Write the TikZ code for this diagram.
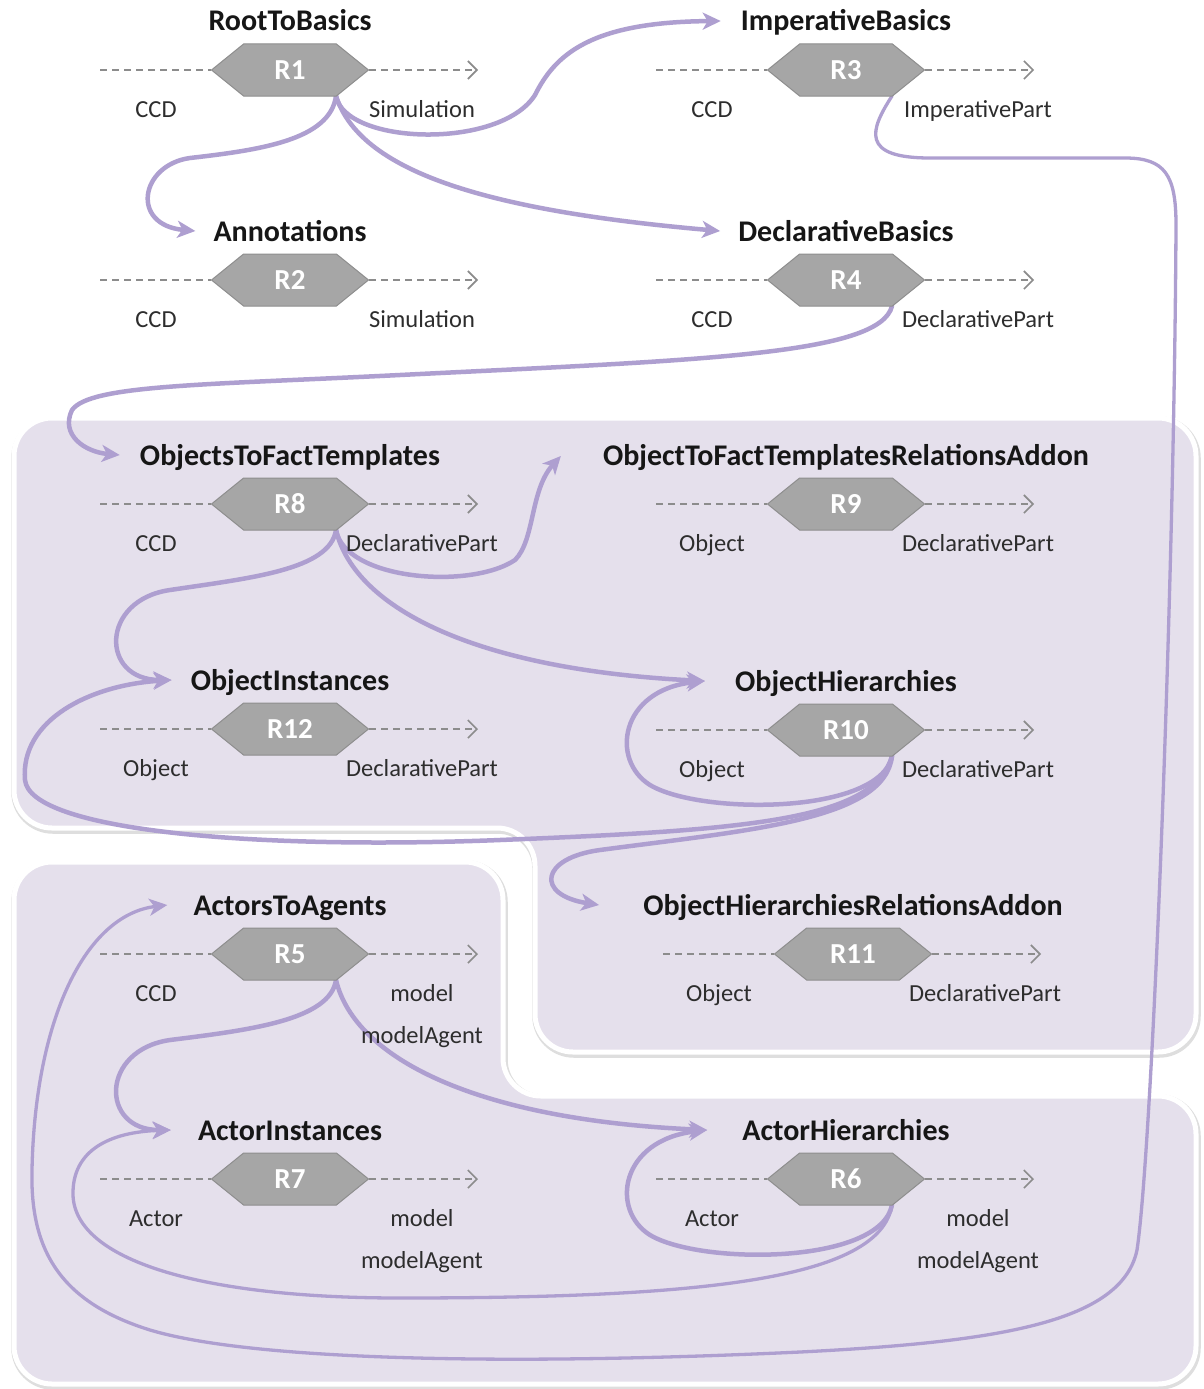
\documentclass[tikz,border=0pt]{standalone}
\usepackage{fontspec}
\setmainfont{Carlito}
\usetikzlibrary{arrows.meta,calc,shapes.symbols}

\definecolor{lav}{RGB}{229,224,236}
\definecolor{lilac}{RGB}{174,159,208}
\definecolor{hexgray}{RGB}{166,166,166}
\definecolor{hexedge}{RGB}{142,142,142}
\definecolor{dashgray}{RGB}{140,140,140}
\definecolor{titlec}{RGB}{22,22,22}
\definecolor{lblc}{RGB}{45,45,45}

\pgfdeclarelayer{bg}
\pgfdeclarelayer{wires}
\pgfsetlayers{bg,wires,main}

\tikzset{
  region/.style={fill=lav, draw=white, line width=5pt, rounded corners=38pt},
  regshadow/.style={draw=black!13, line width=7.5pt, rounded corners=38pt},
  hexa/.style={signal, signal to=west and east, signal pointer angle=78,
    minimum width=157pt, minimum height=52pt, inner sep=0pt,
    fill=hexgray, draw=hexedge, line width=1pt, text=white,
    font=\fontsize{29}{30}\selectfont\bfseries},
  ttl/.style={font=\fontsize{30}{32}\selectfont\bfseries, text=titlec, inner sep=0pt, anchor=base},
  lbl/.style={font=\fontsize{24.5}{27}\selectfont, text=lblc, inner sep=0pt, anchor=base},
  dashln/.style={draw=dashgray, line width=1.6pt, dash pattern=on 7pt off 5pt},
  conn/.style={draw=lilac, line width=4.5pt, line cap=round,
    -{Stealth[length=18pt,width=17pt,inset=5pt]}},
  connthin/.style={conn, line width=3.3pt},
}

% one transformation rule: hexagon, title, input and output labels
\newcommand{\ruleblock}[6]{%
  \node[hexa] (h#1) at (#2,#3) {R#1};
  \node[ttl] (t#1) at (#2,#3-39) {#4};
  \node[lbl] (l#1) at (#2-134,#3+47) {#5};
  \node[lbl] (r#1) at (#2+132,#3+47) {#6};
  \coordinate (in#1) at (#2-190,#3);
  \coordinate (out#1) at (#2+188,#3);
  \draw[dashln] (in#1) -- (h#1.west);
  \draw[dashln,-{Straight Barb[length=9pt,width=18pt]}] (h#1.east) -- (out#1);
}

\begin{document}
\begin{tikzpicture}[x=1pt,y=-1pt]
\useasboundingbox (0,0) rectangle (1203,1389);

\begin{pgfonlayer}{bg}
  \fill[white] (0,0) rectangle (1203,1389);
  % object group
  \draw[regshadow] (15,420) -- (1197,420) -- (1197,1054) -- (536,1054) -- (536,830) -- (15,830) -- cycle;
  \path[region] (14,418) -- (1196,418) -- (1196,1052) -- (535,1052) -- (535,828) -- (14,828) -- cycle;
  % actor group
  \draw[regshadow] (15,864) -- (504,864) -- (504,1098) -- (1197,1098) -- (1197,1386) -- (15,1386) -- cycle;
  \path[region] (14,862) -- (503,862) -- (503,1096) -- (1196,1096) -- (1196,1384) -- (14,1384) -- cycle;
\end{pgfonlayer}

\ruleblock{1}{290}{70}{RootToBasics}{CCD}{Simulation}
\ruleblock{2}{290}{280}{Annotations}{CCD}{Simulation}
\ruleblock{3}{846}{70}{ImperativeBasics}{CCD}{ImperativePart}
\ruleblock{4}{846}{280}{DeclarativeBasics}{CCD}{DeclarativePart}
\ruleblock{8}{290}{504}{ObjectsToFactTemplates}{CCD}{DeclarativePart}
\ruleblock{9}{846}{504}{ObjectToFactTemplatesRelationsAddon}{Object}{DeclarativePart}
\ruleblock{12}{290}{729}{ObjectInstances}{Object}{DeclarativePart}
\ruleblock{10}{846}{730}{ObjectHierarchies}{Object}{DeclarativePart}
\ruleblock{11}{853}{954}{ObjectHierarchiesRelationsAddon}{Object}{DeclarativePart}
\ruleblock{5}{290}{954}{ActorsToAgents}{CCD}{model}
\ruleblock{7}{290}{1179}{ActorInstances}{Actor}{model}
\ruleblock{6}{846}{1179}{ActorHierarchies}{Actor}{model}
\node[lbl] (m5) at (422,1043) {modelAgent};
\node[lbl] (m7) at (422,1268) {modelAgent};
\node[lbl] (m6) at (978,1268) {modelAgent};

\begin{pgfonlayer}{wires}
  % RootToBasics
  \draw[conn] ($(h1)+(46,26)$) .. controls (345,145) and (500,150) .. (535,95)
     .. controls (555,55) and (590,22) .. ($(t3.base west)+(-20,-10)$);
  \draw[conn] ($(h1)+(46,26)$) .. controls (330,140) and (260,150) .. (190,158)
     .. controls (140,165) and (130,225) .. ($(t2.base west)+(-18,-10)$);
  \draw[conn] ($(h1)+(46,26)$) .. controls (360,170) and (480,210) .. ($(t4.base west)+(-18,-10)$);
  % DeclarativeBasics
  \draw[conn] ($(h4)+(46,26)$) .. controls (880,355) and (700,360) .. (400,375)
     .. controls (200,385) and (90,385) .. (72,410)
     .. controls (60,435) and (85,452) .. ($(t8.base west)+(-20,-10)$);
  % ImperativeBasics
  \draw[connthin] ($(h3)+(46,26)$) .. controls (870,130) and (860,158) .. (930,158) -- (1125,158)
     .. controls (1165,158) and (1176,175) .. (1176,225)
     .. controls (1174,600) and (1152,1150) .. (1137,1250)
     .. controls (1122,1322) and (1000,1342) .. (800,1352)
     .. controls (500,1366) and (250,1360) .. (150,1330)
     .. controls (60,1302) and (30,1250) .. (32,1170)
     .. controls (35,1020) and (85,915) .. ($(t5.base west)+(-26,-10)$);
  % ObjectsToFactTemplates
  \draw[conn] ($(h8)+(46,26)$) .. controls (345,580) and (470,590) .. (515,560)
     .. controls (535,540) and (530,490) .. ($(t9.base west)+(-42,-9)$);
  \draw[conn] ($(h8)+(46,26)$) .. controls (330,570) and (250,578) .. (170,590)
     .. controls (100,600) and (100,680) .. ($(t12.base west)+(-19,-10)$);
  \draw[conn] ($(h8)+(46,26)$) .. controls (355,610) and (480,670) .. ($(t10.base west)+(-30,-10)$);
  % ObjectHierarchies
  \draw[conn] ($(h10)+(46,26)$) .. controls (880,815) and (700,815) .. (650,785)
     .. controls (610,760) and (620,690) .. ($(t10.base west)+(-30,-10)$);
  \draw[conn] ($(h10)+(46,26)$) .. controls (875,820) and (750,830) .. (500,840)
     .. controls (250,850) and (30,830) .. (25,780)
     .. controls (20,720) and (90,685) .. ($(t12.base west)+(-19,-10)$);
  \draw[conn] ($(h10)+(46,26)$) .. controls (885,820) and (750,830) .. (600,850)
     .. controls (540,858) and (535,895) .. ($(t11.base west)+(-44,-10)$);
  % ActorsToAgents
  \draw[conn] ($(h5)+(46,26)$) .. controls (330,1020) and (250,1030) .. (170,1040)
     .. controls (100,1050) and (100,1130) .. ($(t7.base west)+(-27,-10)$);
  \draw[conn] ($(h5)+(46,26)$) .. controls (355,1060) and (480,1120) .. ($(t6.base west)+(-35,-10)$);
  % ActorHierarchies
  \draw[conn] ($(h6)+(46,26)$) .. controls (880,1265) and (700,1265) .. (650,1235)
     .. controls (610,1210) and (620,1140) .. ($(t6.base west)+(-35,-10)$);
  \draw[connthin] ($(h6)+(46,26)$) .. controls (880,1280) and (700,1298) .. (400,1298)
     .. controls (200,1298) and (75,1260) .. (73,1195)
     .. controls (72,1150) and (110,1132) .. ($(t7.base west)+(-27,-10)$);
\end{pgfonlayer}
\end{tikzpicture}
\end{document}
